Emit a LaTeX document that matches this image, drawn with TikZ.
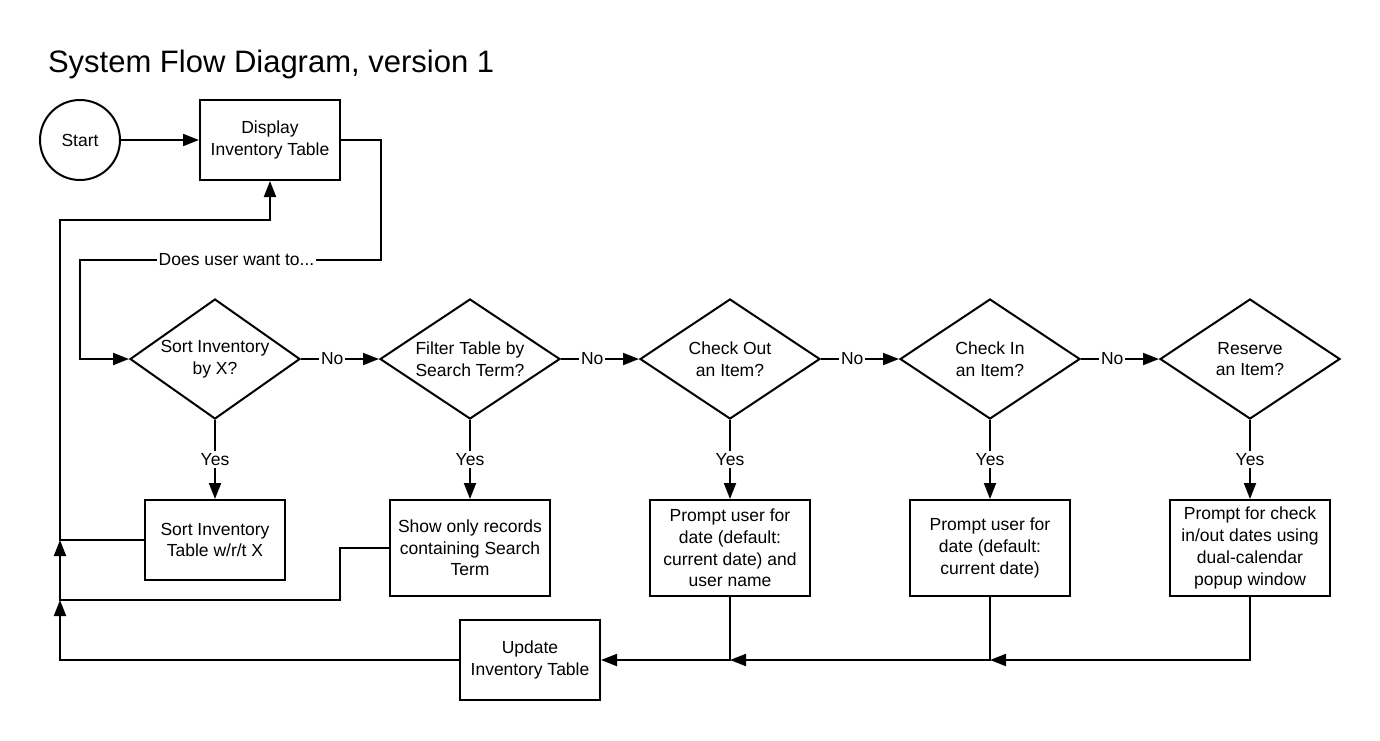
\documentclass[tikz,border=0pt]{standalone}
\usepackage{fontspec}
\setmainfont{Liberation Sans}
\usetikzlibrary{shapes.geometric,arrows.meta}

\begin{document}
\begin{tikzpicture}[x=1pt,y=-1pt,
  line width=2pt,
  every node/.style={font=\fontsize{17.5}{21.7}\selectfont},
  arr/.style={-{Triangle[length=16pt,width=12pt]}},
  boxnode/.style={draw,rectangle,align=center,inner sep=0pt},
  smallbox/.style={boxnode,minimum width=140pt,minimum height=80pt},
  bigbox/.style={boxnode,minimum width=160pt,minimum height=96pt},
  decision/.style={draw,diamond,align=center,inner sep=0pt,aspect=1.5,
    minimum width=180pt,minimum height=120pt},
  lbl/.style={fill=white,inner sep=2pt}
]
\useasboundingbox (0,0) rectangle (1380,740);

% title
\node[anchor=base west,inner sep=0pt,font=\fontsize{31}{36}\selectfont]
  (title) at (47,72) {System Flow Diagram, version 1};

% top row
\node[draw,circle,minimum size=80pt,inner sep=0pt] (start) at (80,140) {Start};
\node[smallbox] (display) at (270,140) {Display\\Inventory Table};

% decisions
\node[decision,aspect=1.417,minimum width=170pt] (d1) at (215,359) {Sort Inventory\\by X?};
\node[decision] (d2) at (470,359) {Filter Table by\\Search Term?};
\node[decision] (d3) at (730,359) {Check Out\\an Item?};
\node[decision] (d4) at (990,359) {Check In\\an Item?};
\node[decision] (d5) at (1250,359) {Reserve\\an Item?};

% actions
\node[smallbox] (b1) at (215,540) {Sort Inventory\\Table w/r/t X};
\node[bigbox] (b2) at (470,548) {Show only records\\containing Search\\Term};
\node[bigbox] (b3) at (730,548) {Prompt user for\\date (default:\\current date) and\\user name};
\node[bigbox] (b4) at (990,548) {Prompt user for\\date (default:\\current date)};
\node[bigbox] (b5) at (1250,548) {Prompt for check\\in/out dates using\\dual-calendar\\popup window};
\node[smallbox] (upd) at (530,660) {Update\\Inventory Table};

% routing points
\coordinate (ra) at (381,260);
\coordinate (la) at (80,260);
\coordinate (fa) at (60,220);
\coordinate (fb) at (60,540);
\coordinate (fc) at (60,600);
\coordinate (fd) at (60,660);
\coordinate (kb) at (340,600);
\coordinate (m3) at (730,660);
\coordinate (m4) at (990,660);

% main flow
\draw[arr] (start) -- (display);
\draw[arr] (display.east) -| (ra) -- node[lbl,pos=0.48] {Does user want to...} (la) |- (d1.west);

\draw[arr] (d1.east) -- node[lbl,pos=0.4] {No} (d2.west);
\draw[arr] (d2.east) -- node[lbl,pos=0.4] {No} (d3.west);
\draw[arr] (d3.east) -- node[lbl,pos=0.4] {No} (d4.west);
\draw[arr] (d4.east) -- node[lbl,pos=0.4] {No} (d5.west);

\draw[arr] (d1.south) -- node[lbl] {Yes} (b1.north);
\draw[arr] (d2.south) -- node[lbl] {Yes} (b2.north);
\draw[arr] (d3.south) -- node[lbl] {Yes} (b3.north);
\draw[arr] (d4.south) -- node[lbl] {Yes} (b4.north);
\draw[arr] (d5.south) -- node[lbl] {Yes} (b5.north);

% return paths
\draw[arr] (b1.west) -- (fb) -- (fa) -| (display.south);
\draw[arr] (b2.west) -| (kb) -- (fc) -- (fb);
\draw[arr] (upd.west) -- (fd) -- (fc);

% merge into update
\draw[arr] (b3.south) |- (upd.east);
\draw[arr] (b4.south) |- (m3);
\draw[arr] (b5.south) |- (m4);
\end{tikzpicture}
\end{document}
